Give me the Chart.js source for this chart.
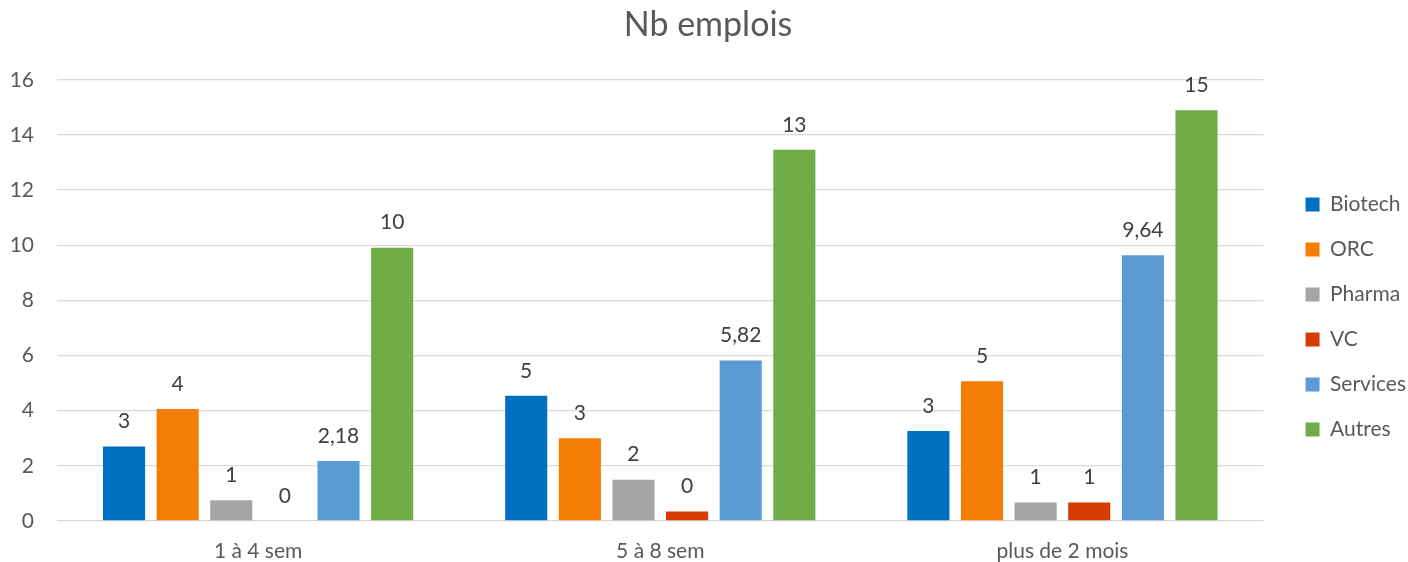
<!DOCTYPE html>
<html><head><meta charset="utf-8">
<script src="https://cdn.jsdelivr.net/npm/chart.js@4/dist/chart.umd.min.js"></script>
<style>html,body{margin:0;padding:0;background:#fff}#wrap{width:1408px;height:562px}</style>
</head><body><div id="wrap"><canvas id="c" width="1408" height="562"></canvas></div>
<script>
const categories = ['1 à 4 sem', '5 à 8 sem', 'plus de 2 mois'];
const seriesNames = ['Biotech', 'ORC', 'Pharma', 'VC', 'Services', 'Autres'];
const seriesColors = ['#0070C0', '#F47D04', '#A5A5A5', '#D43C02', '#5B9BD5', '#70AD47'];
const biotech = [2.70, 4.54, 3.26];
const orc = [4.06, 3.00, 5.07];
const pharma = [0.75, 1.50, 0.67];
const vc = [0, 0.34, 0.67];
const services = [2.18, 5.82, 9.64];
const autres = [9.91, 13.46, 14.90];
const biotechLabels = ['3', '5', '3'];
const orcLabels = ['4', '3', '5'];
const pharmaLabels = ['1', '2', '1'];
const vcLabels = ['0', '0', '1'];
const servicesLabels = ['2,18', '5,82', '9,64'];
const autresLabels = ['10', '13', '15'];
const yMin = 0, yMax = 16, yStep = 2;

const seriesValues = [biotech, orc, pharma, vc, services, autres];
const seriesLabels = [biotechLabels, orcLabels, pharmaLabels, vcLabels, servicesLabels, autresLabels];

const FONT = 'Lato';
const TXT = '#595959';
const FS = 21;

const valueLabelPlugin = {
  id: 'valueLabels',
  afterDatasetsDraw(chart) {
    const ctx = chart.ctx;
    ctx.save();
    ctx.font = FS + 'px ' + FONT;
    ctx.fillStyle = '#404040';
    ctx.textAlign = 'center';
    ctx.textBaseline = 'middle';
    chart.data.datasets.forEach((ds, i) => {
      const meta = chart.getDatasetMeta(i);
      meta.data.forEach((bar, j) => {
        ctx.fillText(ds.valueLabels[j], bar.x, bar.y - 25);
      });
    });
    ctx.restore();
  }
};

function build() {
  new Chart(document.getElementById('c'), {
    type: 'bar',
    data: {
      labels: categories,
      datasets: seriesNames.map((name, i) => ({
        label: name,
        data: seriesValues[i],
        valueLabels: seriesLabels[i],
        backgroundColor: seriesColors[i],
        borderWidth: 0,
        categoryPercentage: 0.8,
        barPercentage: 0.785
      }))
    },
    options: {
      responsive: false,
      animation: false,
      devicePixelRatio: 1,
      layout: { padding: { left: 0, right: -8, top: 0, bottom: 0 } },
      plugins: {
        title: {
          display: true,
          text: 'Nb emplois',
          color: TXT,
          font: { family: FONT, size: 34, weight: 'normal' },
          padding: { top: 5, bottom: 34 }
        },
        legend: {
          position: 'right',
          align: 'center',
          title: { display: true, text: '', font: { size: 10 }, padding: { top: 60, bottom: 0 } },
          labels: {
            color: TXT,
            font: { family: FONT, size: FS },
            boxWidth: 14,
            boxHeight: 14,
            padding: 24
          }
        },
        tooltip: { enabled: false }
      },
      scales: {
        x: {
          grid: { display: false, drawTicks: false },
          border: { display: false },
          ticks: { color: TXT, font: { family: FONT, size: FS }, padding: 18 },
          afterFit(s) { s.height = 41; }
        },
        y: {
          min: yMin,
          max: yMax,
          grid: { color: '#D9D9D9', lineWidth: 1.3, drawTicks: false },
          border: { display: false },
          ticks: { stepSize: yStep, color: TXT, font: { family: FONT, size: FS }, padding: 23 },
          afterFit(s) { s.width = 57; }
        },
        spacer: {
          position: 'right',
          display: true,
          grid: { display: false },
          border: { display: false },
          ticks: { display: false },
          afterFit(s) { s.width = 18; }
        }
      }
    },
    plugins: [valueLabelPlugin]
  });
}
document.fonts.load(FS + 'px ' + FONT).then(build, build);
</script>
</body></html>
